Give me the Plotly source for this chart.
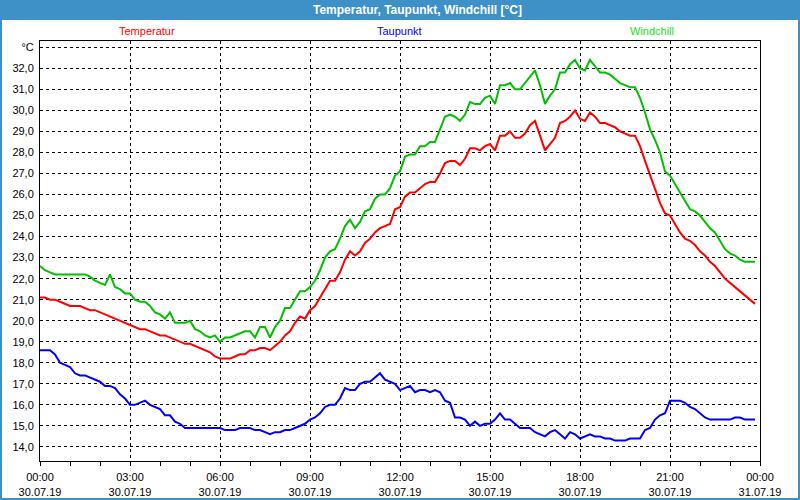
import pandas as pd
import plotly.graph_objects as go

# ---- data (10-minute readings, 30.07.2019) ----
times = pd.date_range("2019-07-30 00:00", periods=144, freq="10min")

temperatur = [
    21.1,21.1,21.0,21.0,20.9,20.8,20.7,20.7,20.7,20.6,20.5,20.5,20.4,20.3,20.2,20.1,20.0,19.9,
    19.8,19.7,19.6,19.6,19.5,19.4,19.3,19.3,19.2,19.1,19.0,18.9,18.9,18.8,18.7,18.6,18.5,18.3,
    18.2,18.2,18.2,18.3,18.4,18.4,18.6,18.6,18.7,18.7,18.6,18.8,19.0,19.3,19.5,19.9,20.2,20.1,
    20.5,20.7,21.1,21.5,21.9,21.9,22.3,22.9,23.3,23.1,23.3,23.7,23.9,24.2,24.4,24.5,24.6,25.3,
    25.4,25.9,26.1,26.1,26.3,26.5,26.6,26.6,27.0,27.5,27.6,27.6,27.4,27.7,28.2,28.2,28.1,28.3,
    28.4,28.1,28.8,28.8,29.0,28.7,28.7,28.9,29.3,29.5,28.8,28.1,28.4,28.7,29.4,29.5,29.7,30.0,
    29.6,29.5,29.9,29.7,29.4,29.4,29.3,29.2,29.0,28.9,28.8,28.8,28.3,27.6,26.9,26.3,25.6,25.1,
    25.0,24.6,24.2,23.9,23.8,23.6,23.3,23.1,22.8,22.6,22.3,22.0,21.8,21.6,21.4,21.2,21.0,20.8,
]
windchill = [
    22.6,22.4,22.3,22.2,22.2,22.2,22.2,22.2,22.2,22.2,22.1,21.9,21.8,21.7,22.2,21.6,21.5,21.3,
    21.3,21.0,20.9,20.9,20.7,20.4,20.3,20.1,20.4,19.9,19.9,19.9,20.0,19.6,19.5,19.3,19.2,19.3,
    19.0,19.2,19.2,19.3,19.4,19.5,19.5,19.2,19.7,19.7,19.2,19.7,20.0,20.6,20.6,21.0,21.4,21.4,
    21.6,21.9,22.4,23.0,23.3,23.4,23.9,24.5,24.8,24.4,24.7,25.2,25.3,25.8,26.0,26.0,26.3,26.9,
    27.1,27.8,27.9,27.9,28.3,28.3,28.5,28.5,29.1,29.7,29.8,29.7,29.5,29.8,30.4,30.3,30.3,30.6,
    30.7,30.3,31.2,31.2,31.3,31.0,31.0,31.3,31.6,31.9,31.2,30.3,30.7,31.0,31.8,31.8,32.2,32.4,
    32.0,31.9,32.4,32.1,31.8,31.8,31.7,31.5,31.3,31.2,31.1,31.1,30.6,29.9,29.1,28.6,28.0,27.1,
    26.9,26.5,26.1,25.7,25.3,25.2,25.0,24.7,24.4,24.2,23.8,23.4,23.2,23.1,22.9,22.8,22.8,22.8,
]
taupunkt = [
    18.6,18.6,18.6,18.4,18.0,17.9,17.8,17.5,17.4,17.4,17.3,17.2,17.1,16.9,16.9,16.8,16.5,16.3,
    16.0,16.0,16.1,16.2,16.0,15.9,15.8,15.5,15.5,15.2,15.1,14.9,14.9,14.9,14.9,14.9,14.9,14.9,
    14.9,14.8,14.8,14.8,14.9,14.9,14.9,14.8,14.8,14.7,14.6,14.7,14.7,14.8,14.8,14.9,15.0,15.1,
    15.3,15.4,15.6,15.9,16.0,16.0,16.3,16.8,16.7,16.7,17.0,17.1,17.1,17.3,17.5,17.2,17.1,17.0,
    16.7,16.8,16.9,16.6,16.7,16.7,16.6,16.7,16.6,16.2,16.1,15.4,15.4,15.3,15.0,15.2,15.0,15.1,
    15.1,15.3,15.6,15.3,15.3,15.1,14.9,14.9,14.9,14.7,14.6,14.5,14.7,14.8,14.6,14.4,14.7,14.6,
    14.4,14.5,14.6,14.5,14.5,14.4,14.4,14.3,14.3,14.3,14.4,14.4,14.4,14.8,14.9,15.3,15.5,15.6,
    16.2,16.2,16.2,16.1,15.9,15.8,15.6,15.4,15.3,15.3,15.3,15.3,15.3,15.4,15.4,15.3,15.3,15.3,
]

series_names = ["Temperatur", "Taupunkt", "Windchill"]
title_text = "Temperatur, Taupunkt, Windchill [°C]"

x_tickvals = pd.date_range("2019-07-30 00:00", periods=9, freq="3h")
x_ticktext = [f"{t:%H:%M}<br>{t:%d.%m.%y}" for t in x_tickvals]
y_tickvals = list(range(14, 34))
y_ticktext = [f"{v},0" for v in range(14, 33)] + ["°C"]

# ---- styles ----
FONT = "Liberation Sans, Arial, sans-serif"
BAR = "#3d91c6"
colors = {"Temperatur": "#ff0000", "Taupunkt": "#0000ff", "Windchill": "#00c000"}
label_colors = {"Temperatur": "#ff0000", "Taupunkt": "#0000ff", "Windchill": "#22dd22"}

x_range = [x_tickvals[0], x_tickvals[-1]]

fig = go.Figure()
for name, vals in (("Temperatur", temperatur), ("Windchill", windchill), ("Taupunkt", taupunkt)):
    fig.add_trace(go.Scatter(x=times, y=vals, mode="lines", name=name,
                             line=dict(color=colors[name], width=2), showlegend=False))
# empty helper trace so the hourly tick axis gets drawn
fig.add_trace(go.Scatter(x=x_range, y=[None, None], xaxis="x2", yaxis="y", mode="lines",
                         showlegend=False, hoverinfo="skip"))

W, H = 800, 500
ml, mr, mt, mb = 40, 40, 41, 39
pw, ph = W - ml - mr, H - mt - mb

def px(xp):
    return (xp - ml) / pw

def py(yp):
    return (H - mb - yp) / ph

fig.update_layout(
    width=W, height=H,
    margin=dict(l=ml, r=mr, t=mt, b=mb, pad=0, autoexpand=False),
    paper_bgcolor="white", plot_bgcolor="white",
    font=dict(family=FONT, size=11, color="#000000"),
    xaxis=dict(
        type="date", automargin=False, range=x_range,
        tickmode="array", tickvals=x_tickvals, ticktext=x_ticktext,
        ticks="outside", ticklen=6, tickcolor="rgba(0,0,0,0)", tickwidth=1,
        showgrid=True, gridcolor="black", gridwidth=1, griddash="3px,3px",
        showline=True, linecolor="black", linewidth=1, mirror=True,
        zeroline=False, fixedrange=True,
    ),
    xaxis2=dict(
        type="date", automargin=False, range=x_range, overlaying="x", anchor="y", side="bottom",
        tickmode="linear", tick0=x_tickvals[0], dtick=3600000,
        ticks="outside", ticklen=4, tickcolor="black", tickwidth=1,
        showticklabels=False, showgrid=False, showline=False, zeroline=False, fixedrange=True,
    ),
    yaxis=dict(
        range=[13.33, 33.3], automargin=False,
        tickmode="array", tickvals=y_tickvals, ticktext=y_ticktext,
        ticks="", showgrid=True, gridcolor="black", gridwidth=1, griddash="3px,3px",
        showline=True, linecolor="black", linewidth=1, mirror=True,
        zeroline=False, fixedrange=True, ticklabelstandoff=3,
    ),
    shapes=[
        dict(type="rect", xref="paper", yref="paper",
             x0=px(0), x1=px(W), y0=py(20), y1=py(0),
             fillcolor=BAR, line=dict(width=0), layer="below"),
        dict(type="rect", xref="paper", yref="paper",
             x0=px(0), x1=px(W), y0=py(H), y1=py(0),
             fillcolor="rgba(0,0,0,0)", line=dict(color=BAR, width=4), layer="above"),
    ],
)

fig.add_annotation(x=px(417), y=py(10), xref="paper", yref="paper", text=f"<b>{title_text}</b>",
                   showarrow=False, xanchor="center", yanchor="middle",
                   font=dict(family=FONT, size=12, color="white"))
label_pos = {"Temperatur": 147, "Taupunkt": 399, "Windchill": 652}
for name in series_names:
    fig.add_annotation(x=px(label_pos[name]), y=py(31), xref="paper", yref="paper", text=name,
                       showarrow=False, xanchor="center", yanchor="middle",
                       font=dict(family=FONT, size=11, color=label_colors[name]))

fig.write_html("out.html")
